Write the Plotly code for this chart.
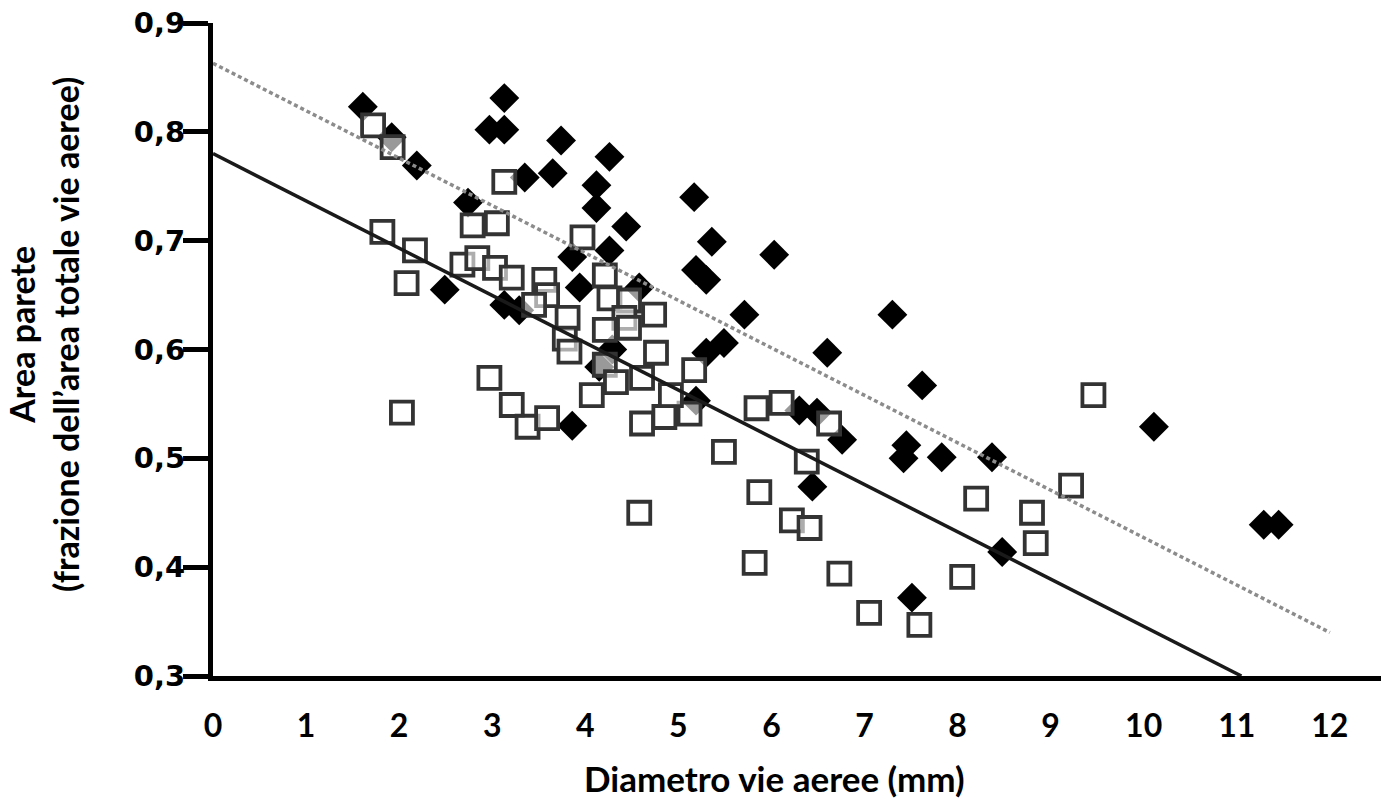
import plotly.graph_objects as go

# Filled diamonds (series 1)
dia_x = [1.61, 1.92, 2.19, 3.13, 2.97, 3.13, 3.35, 2.74, 3.65, 3.74, 4.26, 4.12, 4.12, 4.44,
         3.86, 4.26, 5.17, 5.36, 5.19, 5.30, 6.03, 5.71, 5.49, 5.30, 7.30, 6.60, 7.62, 6.76,
         7.45, 7.42, 7.83, 8.37, 10.11, 11.29, 11.45, 8.48, 7.51, 6.44, 6.30, 6.49, 2.49,
         3.29, 3.13, 3.86, 4.15, 3.94, 4.58, 5.19, 4.29]
dia_y = [0.823, 0.795, 0.769, 0.831, 0.802, 0.802, 0.758, 0.735, 0.762, 0.792, 0.777, 0.751,
         0.730, 0.713, 0.685, 0.691, 0.740, 0.699, 0.673, 0.664, 0.687, 0.632, 0.606, 0.597,
         0.632, 0.597, 0.567, 0.517, 0.512, 0.500, 0.501, 0.501, 0.529, 0.439, 0.439, 0.414,
         0.372, 0.474, 0.544, 0.542, 0.655, 0.636, 0.641, 0.530, 0.584, 0.657, 0.657, 0.553,
         0.600]

# Open squares (series 2)
sq_x = [1.72, 1.93, 1.82, 2.17, 2.08, 2.03, 2.68, 2.84, 2.79, 3.05, 3.13, 3.03, 3.21, 3.56,
        3.59, 3.45, 3.81, 3.97, 3.78, 3.83, 4.21, 4.26, 4.47, 4.42, 4.74, 4.21, 4.47, 4.07,
        2.97, 3.21, 3.38, 3.59, 4.21, 4.33, 4.61, 4.76, 4.61, 4.85, 5.12, 4.92, 5.17, 4.58,
        5.49, 5.84, 6.11, 5.87, 5.82, 6.22, 6.41, 6.38, 6.62, 6.73, 7.05, 7.59, 8.05, 8.20,
        8.80, 8.84, 9.22, 9.46]
sq_y = [0.806, 0.786, 0.708, 0.691, 0.661, 0.542, 0.678, 0.684, 0.714, 0.716, 0.754, 0.675,
        0.666, 0.664, 0.650, 0.641, 0.629, 0.703, 0.610, 0.598, 0.668, 0.647, 0.645, 0.629,
        0.632, 0.618, 0.620, 0.558, 0.574, 0.549, 0.529, 0.537, 0.586, 0.570, 0.574, 0.597,
        0.532, 0.538, 0.541, 0.558, 0.581, 0.450, 0.506, 0.546, 0.551, 0.469, 0.404, 0.443,
        0.436, 0.497, 0.532, 0.394, 0.358, 0.347, 0.391, 0.463, 0.450, 0.422, 0.475, 0.558]

# Regression lines (end points)
fit_solid_x = [0, 11.05]
fit_solid_y = [0.780, 0.300]
fit_dot_x = [0, 12]
fit_dot_y = [0.863, 0.340]

x_ticks = [0, 1, 2, 3, 4, 5, 6, 7, 8, 9, 10, 11, 12]
y_ticks = [0.3, 0.4, 0.5, 0.6, 0.7, 0.8, 0.9]

fig = go.Figure()
fig.add_trace(go.Scatter(x=dia_x, y=dia_y, mode="markers",
                         marker=dict(symbol="diamond", size=23, color="#000000",
                                     line=dict(width=0))))
fig.add_trace(go.Scatter(x=sq_x, y=sq_y, mode="markers",
                         marker=dict(symbol="square", size=22, color="rgba(255,255,255,0.6)",
                                     line=dict(width=3.8, color="#333333"))))
fig.add_trace(go.Scatter(x=fit_dot_x, y=fit_dot_y, mode="lines",
                         line=dict(color="#8c8c8c", width=3.5, dash="4px,3px")))
fig.add_trace(go.Scatter(x=fit_solid_x, y=fit_solid_y, mode="lines",
                         line=dict(color="#1a1a1a", width=3.5)))

fig.update_layout(
    width=1383, height=805,
    margin=dict(l=213, r=2, t=23, b=129),
    paper_bgcolor="white", plot_bgcolor="white",
    showlegend=False,
    separators=",.",
    xaxis=dict(range=[0, 12.55], tickvals=x_ticks, showgrid=False, zeroline=False,
               showline=True, linecolor="black", linewidth=5,
               ticks="", ticklabelstandoff=18,
               tickfont=dict(family="Lato", size=32, color="black", weight="bold")),
    yaxis=dict(range=[0.3, 0.9], tickvals=y_ticks, tickformat=".1f", showgrid=False,
               zeroline=False, showline=True, linecolor="black", linewidth=5,
               ticks="outside", ticklen=25, tickwidth=5, tickcolor="black",
               ticklabelstandoff=-8,
               tickfont=dict(family="DejaVu Sans", size=29, color="black", weight="bold")),
)

fig.add_annotation(text="<b>Diametro vie aeree (mm)</b>", xref="paper", yref="paper",
                   x=(774 - 213) / 1168, y=-(778 - 676) / 653, showarrow=False,
                   xanchor="center", yanchor="middle",
                   font=dict(family="Lato", size=35, color="black"))
fig.add_annotation(text="<b>Area parete<br>(frazione dell’area totale vie aeree)</b>",
                   xref="paper", yref="paper",
                   x=-(213 - 44) / 1168, y=(676 - 335) / 653, showarrow=False,
                   textangle=-90, xanchor="center", yanchor="middle",
                   font=dict(family="Lato", size=34, color="black"))

fig.write_html("out.html")
